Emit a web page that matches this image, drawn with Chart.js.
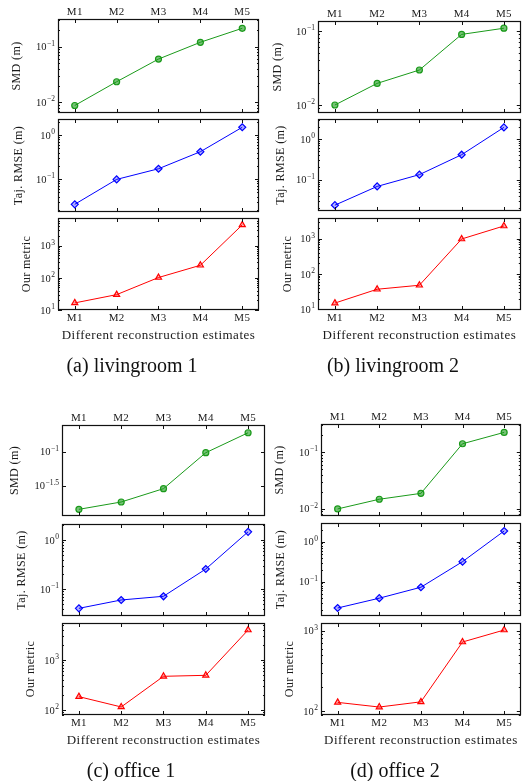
<!DOCTYPE html>
<html>
<head>
<meta charset="utf-8">
<script src="https://cdn.jsdelivr.net/npm/chart.js@4.4.0/dist/chart.umd.min.js"></script>
<style>
  body { margin: 0; background: #fff; }
  #wrap { position: relative; width: 526px; height: 781px; overflow: hidden; }
  #wrap canvas { position: absolute; left: 0; top: 0; }
  .cap { position: absolute; font-family: "Liberation Serif", serif; font-size: 20px; color: #111;
         transform: translate(-50%, -50%); white-space: nowrap; }
</style>
</head>
<body>
<div id="wrap"></div>
<script>
const methods = ['M1', 'M2', 'M3', 'M4', 'M5'];

// livingroom 1
const smdLiving1 = [0.0088, 0.0235, 0.060, 0.12, 0.214];
const rmseLiving1 = [0.0266, 0.098, 0.171, 0.417, 1.5];
const metricLiving1 = [16.6, 30, 102, 245, 4400];
// livingroom 2
const smdLiving2 = [0.01, 0.0196, 0.0297, 0.09, 0.109];
const rmseLiving2 = [0.0234, 0.068, 0.133, 0.414, 1.96];
const metricLiving2 = [15, 37, 48, 980, 2290];
// office 1
const smdOffice1 = [0.0142, 0.0182, 0.0286, 0.0967, 0.19];
const rmseOffice1 = [0.0403, 0.0597, 0.071, 0.256, 1.47];
const metricOffice1 = [185, 115, 472, 494, 3980];
// office 2
const smdOffice2 = [0.0099, 0.0147, 0.0187, 0.142, 0.226];
const rmseOffice2 = [0.0219, 0.0385, 0.0724, 0.316, 1.85];
const metricOffice2 = [128, 112, 130, 723, 1020];

// y tick labels, as powers of ten
const smdTicks = [-2, -1];
const smdTicksOffice1 = [-1.5, -1];
const rmseTicks = [-1, 0];
const metricTicks = [1, 2, 3];
const metricTicksOffice = [2, 3];

const yTitles = ['SMD (m)', 'Taj. RMSE (m)', 'Our metric'];
const xTitle = 'Different reconstruction estimates';
const captions = ['(a) livingroom 1', '(b) livingroom 2', '(c) office 1', '(d) office 2'];

const W = 526, H = 781;
const serif = '"Liberation Serif", "DejaVu Serif", serif';

const styles = [
  { color: '#1a9a1a', fill: 'rgba(26,154,26,0.6)', point: 'circle', r: 3 },
  { color: '#0000ff', fill: 'rgba(0,0,255,0.3)', point: 'rectRot', r: 3.5 },
  { color: '#ff0000', fill: 'rgba(255,0,0,0.3)', point: 'triangle', r: 3.5 }
];

const panels = [
  { left: 58, right: 259, rows: [[19, 113], [119, 212], [218, 310]], titleX: [17, 19, 27], capX: 132, capY: 365,
    series: [smdLiving1, rmseLiving1, metricLiving1],
    ranges: [[-2.19, -0.503], [-1.75, 0.364], [1, 3.857]],
    ticks: [smdTicks, rmseTicks, metricTicks], minor: [true, true, true] },
  { left: 318, right: 522, rows: [[21, 113], [119, 211], [218, 310]], titleX: [278, 281, 288], capX: 393, capY: 365,
    series: [smdLiving2, rmseLiving2, metricLiving2],
    ranges: [[-2.108, -0.865], [-1.775, 0.5], [0.98, 3.586]],
    ticks: [smdTicks, rmseTicks, metricTicks], minor: [true, true, true] },
  { left: 62, right: 265, rows: [[425, 516], [524, 616], [623, 715]], titleX: [15, 22, 31], capX: 131, capY: 770,
    series: [smdOffice1, rmseOffice1, metricOffice1],
    ranges: [[-1.946, -0.607], [-1.551, 0.327], [1.9, 3.74]],
    ticks: [smdTicksOffice1, rmseTicks, metricTicksOffice], minor: [false, true, true] },
  { left: 321, right: 525, rows: [[424, 516], [523, 616], [623, 715]], titleX: [280, 281, 290], capX: 395, capY: 770,
    series: [smdOffice2, rmseOffice2, metricOffice2],
    ranges: [[-2.13, -0.497], [-1.86, 0.467], [1.95, 3.096]],
    ticks: [smdTicks, rmseTicks, metricTicksOffice], minor: [true, true, true] }
];

function drawPow(ctx, exp, xRight, yc) {
  const sup = String(exp).replace('-', '\u2212');
  ctx.font = '10.5px ' + serif;
  const wb = ctx.measureText('10').width;
  ctx.font = '7.5px ' + serif;
  const ws = ctx.measureText(sup).width;
  const x0 = xRight - ws - wb - 0.5;
  ctx.textAlign = 'left';
  ctx.textBaseline = 'middle';
  ctx.font = '10.5px ' + serif;
  ctx.fillText('10', x0, yc + 1);
  ctx.font = '7.5px ' + serif;
  ctx.fillText(sup, x0 + wb + 0.5, yc - 3);
}

// frame, inward ticks and all axis text, placed with the chart's own scales
function framePlugin(p, row) {
  return {
    id: 'frame',
    afterDraw(chart) {
      const { ctx, chartArea: a, scales: { x, y } } = chart;
      ctx.save();
      ctx.strokeStyle = '#111';
      ctx.fillStyle = '#1a1a1a';
      ctx.lineWidth = 1;
      ctx.beginPath();
      methods.forEach((m, i) => {
        const px = Math.round(x.getPixelForValue(i)) + 0.5;
        ctx.moveTo(px, a.top); ctx.lineTo(px, a.top + 4);
        ctx.moveTo(px, a.bottom); ctx.lineTo(px, a.bottom - 4);
      });
      const lo = Math.floor(p.ranges[row][0]), hi = Math.ceil(p.ranges[row][1]);
      if (p.minor[row]) {
        for (let e = lo; e <= hi; e++) {
          for (let k = 2; k <= 9; k++) {
            const v = k * Math.pow(10, e);
            if (v < y.min || v > y.max) continue;
            const py = Math.round(y.getPixelForValue(v)) + 0.5;
            ctx.moveTo(a.left, py); ctx.lineTo(a.left + 2, py);
            ctx.moveTo(a.right, py); ctx.lineTo(a.right - 2, py);
          }
        }
      }
      p.ticks[row].forEach(e => {
        const py = Math.round(y.getPixelForValue(Math.pow(10, e))) + 0.5;
        ctx.moveTo(a.left, py); ctx.lineTo(a.left + 4, py);
        ctx.moveTo(a.right, py); ctx.lineTo(a.right - 4, py);
      });
      ctx.stroke();
      ctx.lineWidth = 1.2;
      ctx.strokeRect(Math.round(a.left) + 0.5, Math.round(a.top) + 0.5,
        Math.round(a.right - a.left) - 1, Math.round(a.bottom - a.top) - 1);

      // y tick labels
      p.ticks[row].forEach(e => drawPow(ctx, e, a.left - 3, y.getPixelForValue(Math.pow(10, e))));

      // x tick labels (top on first row, bottom on last row)
      ctx.letterSpacing = '0.3px';
      ctx.font = '11px ' + serif;
      ctx.textAlign = 'center';
      ctx.textBaseline = 'middle';
      if (row === 0) methods.forEach((m, i) => ctx.fillText(m, x.getPixelForValue(i), a.top - 6.5));
      if (row === 2) {
        methods.forEach((m, i) => ctx.fillText(m, x.getPixelForValue(i), a.bottom + 8.5));
        ctx.letterSpacing = '0.5px';
        ctx.font = '13px ' + serif;
        ctx.fillText(xTitle, (a.left + a.right) / 2, a.bottom + 26);
      }

      // y title
      ctx.letterSpacing = '0.4px';
      ctx.font = '12px ' + serif;
      ctx.translate(p.titleX[row], (a.top + a.bottom) / 2);
      ctx.rotate(-Math.PI / 2);
      ctx.fillText(yTitles[row], 0, 0);
      ctx.restore();
    }
  };
}

const wrap = document.getElementById('wrap');
panels.forEach((p, pi) => {
  p.rows.forEach((rw, row) => {
    const cv = document.createElement('canvas');
    cv.width = W; cv.height = H;
    wrap.appendChild(cv);
    const st = styles[row];
    new Chart(cv.getContext('2d'), {
      type: 'line',
      data: {
        datasets: [{
          data: p.series[row].map((v, i) => ({ x: i, y: v })),
          borderColor: st.color,
          backgroundColor: st.fill,
          borderWidth: 1,
          pointStyle: st.point,
          pointRadius: st.r,
          pointBorderWidth: 1.2,
          pointBorderColor: st.color,
          pointBackgroundColor: st.fill,
          tension: 0
        }]
      },
      options: {
        responsive: false,
        animation: false,
        devicePixelRatio: 1,
        layout: { padding: { left: p.left, right: W - p.right, top: rw[0], bottom: H - rw[1] } },
        plugins: { legend: { display: false }, tooltip: { enabled: false } },
        scales: {
          x: { type: 'linear', display: false, min: -0.4, max: 4.4, bounds: 'data' },
          y: { type: 'logarithmic', display: false, bounds: 'data',
               min: Math.pow(10, p.ranges[row][0]), max: Math.pow(10, p.ranges[row][1]) }
        }
      },
      plugins: [framePlugin(p, row)]
    });
  });
  const cap = document.createElement('div');
  cap.className = 'cap';
  cap.style.left = p.capX + 'px';
  cap.style.top = p.capY + 'px';
  cap.textContent = captions[pi];
  wrap.appendChild(cap);
});
</script>
</body>
</html>
